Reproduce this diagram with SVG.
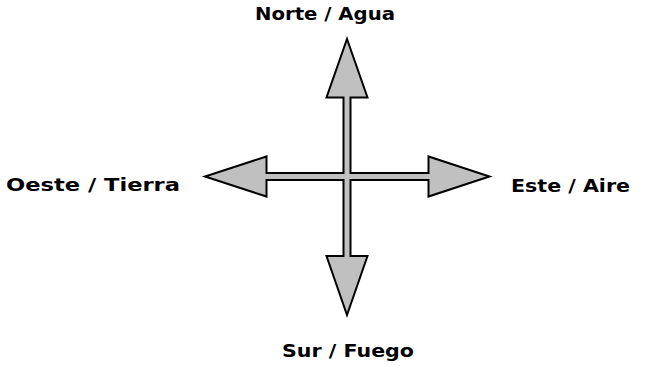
<svg xmlns="http://www.w3.org/2000/svg" width="646" height="366" viewBox="0 0 646 366">
  <style>
    .label { font-family: "DejaVu Sans", "Liberation Sans", sans-serif; font-weight: bold; font-size: 18.5px; fill: #000; }
    .cross { fill: #c0c0c0; stroke: #000; stroke-width: 2; stroke-linejoin: miter; }
  </style>
  <rect width="646" height="366" fill="#fff"/>
  <g id="connectors">
    <!-- four-headed compass cross drawn as one outline -->
    <polygon class="cross" points="347,39 367.5,97.5 350.5,97.5 350.5,173 428.5,173 428.5,156.5 489.5,176.5 428.5,196.5 428.5,180 350.5,180 350.5,256 367.5,256 347,315 326.5,256 343.5,256 343.5,180 266.5,180 266.5,196.5 205,176.5 266.5,156.5 266.5,173 343.5,173 343.5,97.5 326.5,97.5"/>
  </g>
  <g id="north">
    <text class="label" x="255" y="20" textLength="140" lengthAdjust="spacingAndGlyphs">Norte / Agua</text>
  </g>
  <g id="east">
    <text class="label" x="511" y="192" textLength="119" lengthAdjust="spacingAndGlyphs">Este / Aire</text>
  </g>
  <g id="south">
    <text class="label" x="282" y="357" textLength="132" lengthAdjust="spacingAndGlyphs">Sur / Fuego</text>
  </g>
  <g id="west">
    <text class="label" x="6" y="191" textLength="174" lengthAdjust="spacingAndGlyphs">Oeste / Tierra</text>
  </g>
</svg>
